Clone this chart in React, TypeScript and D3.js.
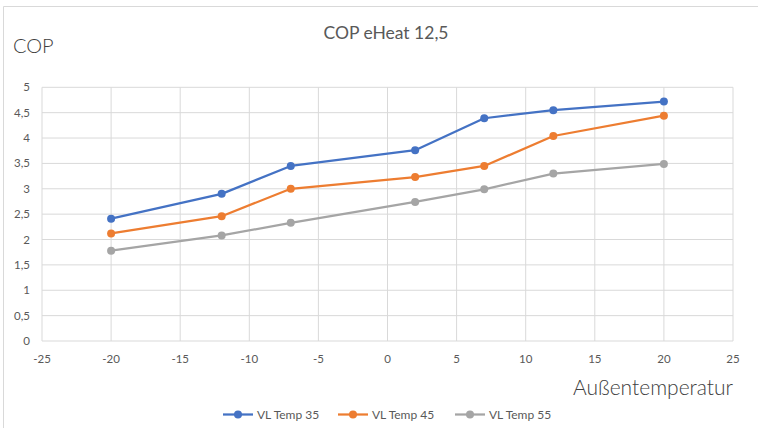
import React from 'react';
import * as d3 from 'd3';

// Außentemperatur (°C)
const temps = [-20, -12, -7, 2, 7, 12, 20];
const vl35 = [2.41, 2.9, 3.45, 3.76, 4.39, 4.55, 4.72];
const vl45 = [2.12, 2.46, 3.0, 3.23, 3.45, 4.04, 4.44];
const vl55 = [1.78, 2.08, 2.33, 2.74, 2.99, 3.3, 3.49];
const seriesNames = ['VL Temp 35', 'VL Temp 45', 'VL Temp 55'];
const xTicks = [-25, -20, -15, -10, -5, 0, 5, 10, 15, 20, 25];
const yTicks = [0, 0.5, 1, 1.5, 2, 2.5, 3, 3.5, 4, 4.5, 5];

const colors = ['#4472C4', '#ED7D31', '#A5A5A5'];
const width = 758;
const height = 428;
const font = 'Lato, "Open Sans", sans-serif';

const App: React.FC = () => {
  const x = d3.scaleLinear().domain([-25, 25]).range([42, 733]);
  const y = d3.scaleLinear().domain([0, 5]).range([341, 87.3]);
  const fmt = (v: number) => String(v).replace('.', ',');

  const series = [vl35, vl45, vl55].map((vals, i) => ({
    name: seriesNames[i],
    color: colors[i],
    points: vals.map((v, j) => [temps[j], v] as [number, number]),
  }));

  const line = d3.line<[number, number]>()
    .x(d => x(d[0]))
    .y(d => y(d[1]));

  // legend layout
  const legendX = [223, 338, 455];

  return (
    <svg width={width} height={height} style={{ position: 'absolute', left: 0, top: 0 }} fontFamily={font}>
      <rect x={0} y={0} width={width} height={height} fill="#fff" />
      {/* chart border (only top/left visible) */}
      <path d={`M3.5,${height} V6.5 H${width}`} fill="none" stroke="#d9d9d9" strokeWidth={1} />

      {/* title */}
      <text x={386} y={39} textAnchor="middle" fontSize={17.5} fill="#595959">COP eHeat 12,5</text>
      <text x={13} y={53} fontSize={20} fontWeight={300} fill="#404040">COP</text>

      {/* gridlines */}
      {yTicks.map(t => (
        <line key={'gy' + t} x1={x(-25)} x2={x(25)} y1={y(t)} y2={y(t)} stroke="#d9d9d9" strokeWidth={1} />
      ))}
      {xTicks.map(t => (
        <line key={'gx' + t} x1={x(t)} x2={x(t)} y1={y(0)} y2={y(5)} stroke="#d9d9d9" strokeWidth={1} />
      ))}

      {/* axis tick labels */}
      {yTicks.map(t => (
        <text key={'ly' + t} x={30} y={y(t)} dy="0.35em" textAnchor="end" fontSize={11.5} fill="#595959">{fmt(t)}</text>
      ))}
      {xTicks.map(t => (
        <text key={'lx' + t} x={x(t)} y={359} dy="0.35em" textAnchor="middle" fontSize={11.5} fill="#595959">{t}</text>
      ))}

      <text x={733} y={395} textAnchor="end" fontSize={21} fontWeight={300} fill="#404040">Außentemperatur</text>

      {/* series */}
      {series.map(s => (
        <g key={s.name}>
          <path d={line(s.points) || ''} fill="none" stroke={s.color} strokeWidth={2.25} strokeLinejoin="round" />
          {s.points.map((p, j) => (
            <circle key={j} cx={x(p[0])} cy={y(p[1])} r={4} fill={s.color} />
          ))}
        </g>
      ))}

      {/* legend */}
      {series.map((s, i) => (
        <g key={'lg' + i} transform={`translate(${legendX[i]},414.5)`}>
          <line x1={0} x2={30} y1={0} y2={0} stroke={s.color} strokeWidth={2.25} />
          <circle cx={15} cy={0} r={4} fill={s.color} />
          <text x={34} y={0} dy="0.35em" fontSize={12} fill="#595959">{s.name}</text>
        </g>
      ))}
    </svg>
  );
};

export default App;
